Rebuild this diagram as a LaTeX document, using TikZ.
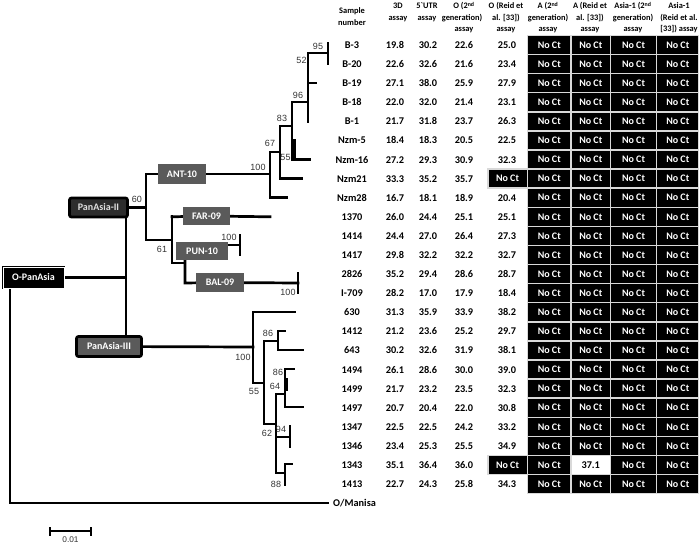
\documentclass[tikz,border=0pt]{standalone}
\usepackage{fontspec}
\setmainfont{Carlito}
\newfontfamily\supfont{Liberation Sans}
\usetikzlibrary{backgrounds}
\definecolor{boxgray}{RGB}{90,90,90}
\definecolor{darkbox}{RGB}{45,45,45}
\begin{document}
\begin{tikzpicture}[x=1pt,y=-1pt,
 br/.style={line width=2.7pt, line cap=rect, line join=miter},
 sup/.style={font=\supfont\fontsize{9}{10}\selectfont, text=black!80, inner sep=0},
 gbox/.style={fill=boxgray, text=white, font=\bfseries\fontsize{10}{12}\selectfont, inner sep=0, minimum height=19, minimum width=48},
 dat/.style={font=\bfseries\fontsize{10.3}{12}\selectfont, inner sep=0, anchor=base},
 hd/.style={font=\bfseries\fontsize{8.4}{10}\selectfont, inner sep=0, anchor=base},
 cell/.style={fill=black, draw=gray!30, line width=1.5pt, text=white, font=\bfseries\fontsize{10}{11}\selectfont, minimum height=19.09, inner sep=0},
 clade/.style={rounded corners=2pt, draw=black, line width=2.7pt, font=\bfseries\fontsize{10}{12}\selectfont, inner sep=0},
]
\useasboundingbox (0,0) rectangle (699,543);

% ---------- boxes ----------
\node[fill=black, draw=black, double=white, double distance=0.8pt, line width=1pt,
      text=white, font=\bfseries\fontsize{10}{12}\selectfont, inner sep=0,
      minimum width=61, minimum height=21] (opa) at (33.5,277.5) {O-PanAsia};
\node[clade, fill=darkbox, text=white!88!black, minimum width=58, minimum height=19] (pa2) at (98.5,207.5) {PanAsia-II};
\node[clade, fill=boxgray, text=white, minimum width=65, minimum height=20] (pa3) at (109,346.5) {PanAsia-III};
\node[gbox, minimum height=20] (ant) at (182,174) {ANT-10};
\node[gbox, minimum height=18, minimum width=47] (far) at (206.5,216) {FAR-09};
\node[gbox, minimum height=18.5, minimum width=52] (pun) at (202,251) {PUN-10};
\node[gbox] (bal) at (220,282.5) {BAL-09};
\node[font=\bfseries\fontsize{10.3}{12}\selectfont, inner sep=0, anchor=west] (mani) at (333,503) {O/Manisa};

% ---------- tree ----------
\begin{scope}[on background layer]
\draw[br] (opa) -- (126,277.5);
\draw[br] (126,207.5) -- (126,346.5);
\draw[br] (10,288) -- (10,503) -- ([xshift=-5pt]mani.west);
% PanAsia-II clade
\draw[br] (pa2) -- (146,207.5);
\draw[br] (146,174) -- (146,240) -- (172,240);
\draw[br] (146,174) -- (ant) -- (270,174);
\draw[br] (172,216.8) -- (172,263) -- (185,263);
\draw[br] (172,216.8) -- (far) -- (270,216.8);
\draw[br] (185,245) -- (185,283) -- (bal) -- (298,283);
\draw[br] (185,245) -- (240,245);
\draw[br] (240,235) -- (240,255);
\draw[br] (298,273) -- (298,293);
% ANT-10 subclade
\draw[br] (280,152) -- (270,152) -- (270,197.7) -- (287,197.7);
\draw[br] (292,126) -- (280,126) -- (280,178.6) -- (302,178.6);
\draw[br] (308,102) -- (292,102) -- (292,159.5) -- (310,159.5);
\draw[br] (294.5,140.5) -- (294.5,159.5);
\draw[br] (328,53) -- (308,53) -- (308,121.4);
\draw[br] (308,83) -- (316,83);
\draw[br] (328,43) -- (328,64);
% PanAsia-III clade
\draw[br] (pa3) -- (253,347);
\draw[br] (295,312) -- (253,312) -- (253,383) -- (264,383);
\draw[br] (278,341) -- (264,341) -- (264,424) -- (276,424);
\draw[br] (285,331) -- (278,331) -- (278,350) -- (303,350);
\draw[br] (285,394) -- (276,394) -- (276,473) -- (285,473);
\draw[br] (294,369) -- (285,369) -- (285,407) -- (303,407);
\draw[br] (286.8,379) -- (286.8,390);
\draw[br] (276,437) -- (290,437);
\draw[br] (290,426) -- (290,447);
\draw[br] (292,464) -- (285,464) -- (285,485);
\end{scope}

% ---------- support values ----------
\node[sup] (s95) at (318,46) {95};
\node[sup] (s52) at (301.5,60) {52};
\node[sup] (s96) at (298,95) {96};
\node[sup] (s83) at (282,118) {83};
\node[sup] (s67) at (270,143) {67};
\node[sup] (s55a) at (285.5,157.5) {55};
\node[sup] (s100a) at (258,167.5) {100};
\node[sup] (s60) at (137,199) {60};
\node[sup] (s100b) at (229,237) {100};
\node[sup] (s61) at (162,249) {61};
\node[sup] (s100c) at (288,292) {100};
\node[sup] (s86a) at (268,333) {86};
\node[sup] (s100d) at (243,357) {100};
\node[sup] (s55b) at (254,391) {55};
\node[sup] (s86b) at (278,372) {86};
\node[sup] (s64) at (275,386) {64};
\node[sup] (s62) at (267,433) {62};
\node[sup] (s94) at (281,429) {94};
\node[sup] (s88) at (276,484) {88};

% ---------- scale bar ----------
\coordinate (sbl) at (50,531);
\coordinate (sbr) at (91,531);
\draw[line width=2pt] (sbl) -- (sbr);
\draw[line width=2pt] ([yshift=-4.5pt]sbl) -- ([yshift=4.5pt]sbl);
\draw[line width=2pt] ([yshift=-4.5pt]sbr) -- ([yshift=4.5pt]sbr);
\node[sup, font=\supfont\fontsize{8.3}{9}\selectfont] (sbt) at (70.5,539.5) {0.01};

% ---------- header ----------
\node[hd] (h0a) at (352,13.5) {Sample};
\node[hd] (h0b) at (352,25.5) {number};
\node[hd] (h1a) at (398,9) {3D};
\node[hd] (h1b) at (398,20.5) {assay};
\node[hd] (h2a) at (427,9) {5\textasciigrave UTR};
\node[hd] (h2b) at (427,20.5) {assay};
\node[hd] (h3a) at (464,9) {O (2\textsuperscript{nd}};
\node[hd] (h3b) at (462,20.5) {generation)};
\node[hd] (h3c) at (464,32) {assay};
\node[hd] (h4a) at (506,9) {O (Reid et};
\node[hd] (h4b) at (506,20.5) {al. [33])};
\node[hd] (h4c) at (506,32) {assay};
\node[hd] (h5a) at (548,9) {A (2\textsuperscript{nd}};
\node[hd] (h5b) at (548,20.5) {generation)};
\node[hd] (h5c) at (548,32) {assay};
\node[hd] (h6a) at (590,9) {A (Reid et};
\node[hd] (h6b) at (590,20.5) {al. [33])};
\node[hd] (h6c) at (590,32) {assay};
\node[hd] (h7a) at (633,9) {Asia-1 (2\textsuperscript{nd}};
\node[hd] (h7b) at (633,20.5) {generation)};
\node[hd] (h7c) at (633,32) {assay};
\node[hd] (h8a) at (679,9) {Asia-1};
\node[hd] (h8b) at (679,20.5) {(Reid et al.};
\node[hd] (h8c) at (679,32) {[33]) assay};

% ---------- black cells ----------
\foreach \i in {0,...,23}{
  \pgfmathsetmacro\yy{45+19.09*\i}
  \foreach \cx/\cw [count=\j] in {549.25/43.5,633.5/46,677.75/42.5}{
    \node[cell, minimum width=\cw] (c\i-\j) at (\cx,\yy) {No Ct};
  }
}
\foreach \i in {0,...,21,23}{
  \pgfmathsetmacro\yy{45+19.09*\i}
  \node[cell, minimum width=39.5] (ar\i) at (590.75,\yy) {No Ct};
}
\pgfmathsetmacro\ya{45+19.09*7}
\pgfmathsetmacro\yb{45+19.09*22}
\node[cell, minimum width=39.5] (o7) at (507.5,\ya) {No Ct};
\node[cell, minimum width=39.5] (o22) at (507.5,\yb) {No Ct};
\node[inner sep=0, font=\bfseries\fontsize{10.3}{12}\selectfont] (a22) at (590.75,\yb) {37.1};

% ---------- data ----------
\foreach \nm/\va/\vb/\vc/\vd [count=\i from 0] in {
 B-3/19.8/30.2/22.6/25.0, B-20/22.6/32.6/21.6/23.4, B-19/27.1/38.0/25.9/27.9,
 B-18/22.0/32.0/21.4/23.1, B-1/21.7/31.8/23.7/26.3, Nzm-5/18.4/18.3/20.5/22.5,
 Nzm-16/27.2/29.3/30.9/32.3, Nzm21/33.3/35.2/35.7/{}, Nzm28/16.7/18.1/18.9/20.4,
 1370/26.0/24.4/25.1/25.1, 1414/24.4/27.0/26.4/27.3, 1417/29.8/32.2/32.2/32.7,
 2826/35.2/29.4/28.6/28.7, I-709/28.2/17.0/17.9/18.4, 630/31.3/35.9/33.9/38.2,
 1412/21.2/23.6/25.2/29.7, 643/30.2/32.6/31.9/38.1, 1494/26.1/28.6/30.0/39.0,
 1499/21.7/23.2/23.5/32.3, 1497/20.7/20.4/22.0/30.8, 1347/22.5/22.5/24.2/33.2,
 1346/23.4/25.3/25.5/34.9, 1343/35.1/36.4/36.0/{}, 1413/22.7/24.3/25.8/34.3}{
  \pgfmathsetmacro\yy{45+19.09*\i+3.5}
  \node[dat] (n\i) at (352,\yy) {\nm};
  \node[dat] (d\i-a) at (395,\yy) {\va};
  \node[dat] (d\i-b) at (428,\yy) {\vb};
  \node[dat] (d\i-c) at (464,\yy) {\vc};
  \node[dat] (d\i-d) at (507,\yy) {\vd};
}
\end{tikzpicture}
\end{document}
